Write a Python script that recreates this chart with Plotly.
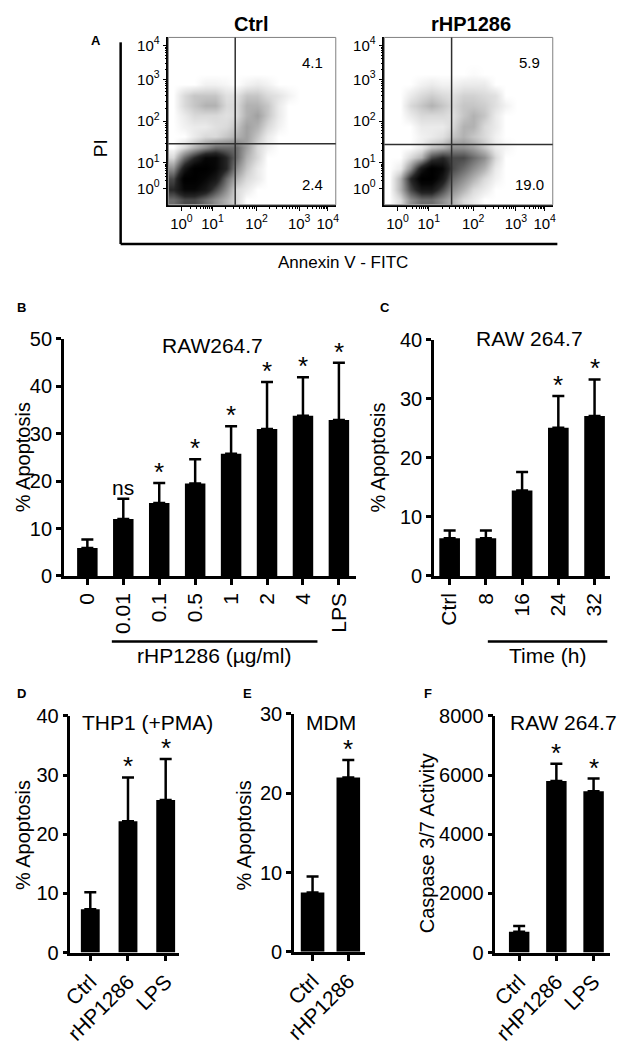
import plotly.graph_objects as go

FONT = "Liberation Sans, Arial, sans-serif"
W, H = 624, 1050

# ---------------- Panel A : flow cytometry density ----------------
channel_bins = [32, 96, 160, 224, 288, 352, 416, 480, 544, 608, 672, 736, 800, 864, 928, 992]
decade_labels = ["10<sup>0</sup>", "10<sup>1</sup>", "10<sup>2</sup>", "10<sup>3</sup>", "10<sup>4</sup>"]
decade_ch_x = [80, 270, 540, 800, 975]
decade_ch_y = [100, 256, 512, 768, 975]
minor_ch_x = [137, 171, 194, 213, 228, 241, 252, 261,
              351, 399, 433, 459, 480, 498, 514, 528,
              618, 664, 697, 722, 742, 760, 775, 788,
              853, 883, 905, 922, 936, 948, 958, 967]
minor_ch_y = [147, 174, 194, 209, 221, 232, 241, 249,
              333, 378, 410, 435, 455, 472, 487, 500,
              589, 634, 666, 691, 711, 728, 743, 756,
              830, 867, 893, 913, 929, 943, 955, 965]

# rows from bottom (low PI) to top; columns from low to high Annexin V
density_ctrl = [
    [4, 5, 5, 4, 3, 2, 1, 0, 0, 0, 0, 0, 0, 0, 0, 0],
    [6, 8, 8, 7, 5, 3, 1, 0.5, 0, 0, 0, 0, 0, 0, 0, 0],
    [5, 9, 9, 8, 7, 4, 2, 1, 0.5, 0, 0, 0, 0, 0, 0, 0],
    [3, 7, 9, 9, 8, 6, 3, 1.5, 0.5, 0, 0, 0, 0, 0, 0, 0],
    [1, 4, 6, 8, 8, 6, 4, 2, 1, 0, 0, 0, 0, 0, 0, 0],
    [0, 1, 2, 3, 4, 4, 4, 2.5, 1, 0.3, 0, 0, 0, 0, 0, 0],
    [0, 0, 0.5, 1, 1, 1.5, 2, 2.5, 1.5, 0.5, 0, 0, 0, 0, 0, 0],
    [0, 0.3, 0.5, 0.5, 0.8, 1, 1.5, 2.5, 2, 1, 0.3, 0, 0, 0, 0, 0],
    [0, 0.5, 1, 1, 1, 0.8, 1, 2, 2.5, 1.5, 0.5, 0, 0, 0, 0, 0],
    [0, 1, 1.5, 2, 2, 1, 1, 2, 2, 1.5, 0.5, 0, 0, 0, 0, 0],
    [0, 1, 1.5, 1.5, 1.5, 0.8, 0.8, 1.5, 1.5, 1, 0.7, 0.3, 0, 0, 0, 0],
    [0, 0, 0, 0.3, 0.3, 0.2, 0, 0.3, 0.5, 0.3, 0, 0, 0, 0, 0, 0],
    [0, 0, 0, 0, 0, 0, 0, 0, 0, 0, 0, 0, 0, 0, 0, 0],
    [0, 0, 0, 0, 0, 0, 0, 0, 0, 0, 0, 0, 0, 0, 0, 0],
    [0, 0, 0, 0, 0, 0, 0, 0, 0, 0, 0, 0, 0, 0, 0, 0],
    [0, 0, 0, 0, 0, 0, 0, 0, 0, 0, 0, 0, 0, 0, 0, 0],
]
density_rhp = [
    [0, 1, 3, 4, 4, 3, 2, 1, 0.5, 0, 0, 0, 0, 0, 0, 0],
    [0, 2, 5, 7, 7, 5, 3, 2, 1, 0.5, 0, 0, 0, 0, 0, 0],
    [0, 2, 6, 9, 9, 7, 4, 3, 2, 1, 0.3, 0, 0, 0, 0, 0],
    [0, 0.5, 3, 7, 9, 8, 5, 4, 3, 2, 0.5, 0, 0, 0, 0, 0],
    [0, 0, 1, 2, 5, 6, 5, 5, 4, 3, 1, 0, 0, 0, 0, 0],
    [0, 0, 0, 0.5, 1.5, 2, 3, 3, 2.5, 1.5, 0.5, 0.2, 0, 0, 0, 0],
    [0, 0, 0, 0.3, 0.5, 0.8, 1.5, 2, 1.5, 1, 0.3, 0, 0, 0, 0, 0],
    [0, 0, 0, 0.5, 0.5, 0.5, 1, 2, 2, 1, 0.5, 0, 0, 0, 0, 0],
    [0, 0, 0.5, 1, 1, 1, 0.8, 1.5, 2, 1.5, 0.5, 0, 0, 0, 0, 0],
    [0, 0, 1, 1.5, 2, 1.5, 1, 1.5, 1.5, 1.3, 0.8, 0.3, 0, 0, 0, 0],
    [0, 0, 0.5, 1, 1.3, 1, 0.8, 1.2, 1.2, 1, 0.8, 0, 0, 0, 0, 0],
    [0, 0, 0, 0.3, 0.5, 0.3, 0.3, 0.5, 0.5, 0.5, 0, 0, 0, 0, 0, 0],
    [0, 0, 0, 0, 0, 0, 0, 0, 0.1, 0, 0, 0, 0, 0, 0, 0],
    [0, 0, 0, 0, 0, 0, 0, 0, 0, 0, 0, 0, 0, 0, 0, 0],
    [0, 0, 0, 0, 0, 0, 0, 0, 0, 0, 0, 0, 0, 0, 0, 0],
    [0, 0, 0, 0, 0, 0, 0, 0, 0, 0, 0, 0, 0, 0, 0, 0],
]
gate_ctrl = [409, 373]
gate_rhp = [409, 369]
quadrant_ctrl = ["4.1", "2.4"]
quadrant_rhp = ["5.9", "19.0"]

# ---------------- Panel B ----------------
b_cats = ["0", "0.01", "0.1", "0.5", "1", "2", "4", "LPS"]
b_vals = [5.9, 12.0, 15.4, 19.5, 25.8, 31.0, 33.8, 32.9]
b_err = [1.8, 4.3, 4.2, 5.1, 5.8, 9.9, 8.1, 12.1]
b_sig = ["", "ns", "*", "*", "*", "*", "*", "*"]

# ---------------- Panel C ----------------
c_cats = ["Ctrl", "8", "16", "24", "32"]
c_vals = [6.4, 6.4, 14.5, 25.1, 27.1]
c_err = [1.3, 1.3, 3.1, 5.4, 6.2]
c_sig = ["", "", "", "*", "*"]

# ---------------- Panel D ----------------
d_cats = ["Ctrl", "rHP1286", "LPS"]
d_vals = [7.3, 22.2, 25.8]
d_err = [2.9, 7.4, 6.9]
d_sig = ["", "*", "*"]

# ---------------- Panel E ----------------
e_cats = ["Ctrl", "rHP1286"]
e_vals = [7.5, 22.0]
e_err = [2.0, 2.2]
e_sig = ["", "*"]

# ---------------- Panel F ----------------
f_cats = ["Ctrl", "rHP1286", "LPS"]
f_vals = [700, 5800, 5450]
f_err = [200, 580, 430]
f_sig = ["", "*", "*"]


def fx(px):
    return px / W


def fy(py):
    return 1 - py / H


fig = go.Figure()
layout = dict(
    width=W, height=H, autosize=False,
    margin=dict(l=0, r=0, t=0, b=0),
    paper_bgcolor="white", plot_bgcolor="white",
    showlegend=False,
    font=dict(family=FONT, color="black", size=20),
)
shapes = []
annotations = []

gray_scale = [[0, "#ffffff"], [0.03, "#f3f3f3"], [0.11, "#dadada"], [0.22, "#b3b3b3"],
              [0.45, "#6a6a6a"], [0.67, "#262626"], [0.9, "#060606"], [1, "#000000"]]

# --- A panels
a_specs = [
    ("x", "y", "", 161.7, 332.7, density_ctrl, gate_ctrl, quadrant_ctrl),
    ("x2", "y2", "2", 382.3, 554.3, density_rhp, gate_rhp, quadrant_rhp),
]
for xa, ya, sfx, x0, x1, dens, gate, quad in a_specs:
    fig.add_trace(go.Heatmap(
        x=channel_bins, y=channel_bins, z=dens, zmin=0, zmax=9,
        colorscale=gray_scale, showscale=False, zsmooth="best",
        hoverinfo="skip", xaxis=xa, yaxis=ya))
    layout["xaxis" + sfx] = dict(
        domain=[fx(x0), fx(x1)], range=[0, 1024], anchor=ya,
        tickmode="array", tickvals=decade_ch_x, ticktext=decade_labels,
        ticks="outside", ticklen=4, tickwidth=1.2, tickcolor="black",
        minor=dict(tickmode="array", tickvals=minor_ch_x, ticks="outside",
                   ticklen=2, tickwidth=1, tickcolor="black", showgrid=False),
        showline=True, linecolor="black", linewidth=1.5,
        showgrid=False, zeroline=False, tickfont=dict(size=15, family=FONT),
    )
    layout["yaxis" + sfx] = dict(
        domain=[fy(198), fy(27)], range=[0, 1024], anchor=xa,
        tickmode="array", tickvals=decade_ch_y, ticktext=decade_labels,
        ticks="outside", ticklen=4, tickwidth=1.2, tickcolor="black",
        minor=dict(tickmode="array", tickvals=minor_ch_y, ticks="outside",
                   ticklen=2, tickwidth=1, tickcolor="black", showgrid=False),
        showline=True, linecolor="black", linewidth=1.5,
        showgrid=False, zeroline=False, tickfont=dict(size=15, family=FONT),
    )
    shapes.append(dict(type="rect", xref=xa + " domain", yref=ya + " domain",
                       x0=0, x1=1, y0=0, y1=1, line=dict(color="#808080", width=1)))
    shapes.append(dict(type="line", xref=xa, yref=ya + " domain", x0=gate[0], x1=gate[0],
                       y0=0, y1=1, line=dict(color="#303030", width=1.5)))
    shapes.append(dict(type="line", xref=xa + " domain", yref=ya, x0=0, x1=1,
                       y0=gate[1], y1=gate[1], line=dict(color="#303030", width=1.5)))
    annotations.append(dict(xref=xa, yref=ya, x=880, y=868, text=quad[0], showarrow=False,
                            font=dict(size=15, family=FONT)))
    annotations.append(dict(xref=xa, yref=ya, x=880, y=126, text=quad[1], showarrow=False,
                            font=dict(size=15, family=FONT)))

# big L frame of panel A
shapes.append(dict(type="line", xref="paper", yref="paper", x0=fx(113), x1=fx(113),
                   y0=fy(32), y1=fy(238), line=dict(color="black", width=2.5)))
shapes.append(dict(type="line", xref="paper", yref="paper", x0=fx(113), x1=fx(559),
                   y0=fy(238), y1=fy(238), line=dict(color="black", width=2.5)))


def paper_text(px, py, text, size=21, bold=False, angle=0, xanchor="center"):
    annotations.append(dict(
        xref="paper", yref="paper", x=fx(px), y=fy(py), text=("<b>%s</b>" % text) if bold else text,
        showarrow=False, textangle=angle, xanchor=xanchor, yanchor="middle",
        font=dict(size=size, family=FONT, color="black")))


paper_text(246, 13, "Ctrl", size=20, bold=True)
paper_text(471, 13, "rHP1286", size=20, bold=True)
paper_text(92, 140, "PI", size=19, angle=-90)
paper_text(340, 257, "Annexin V - FITC", size=17)

# --- bar panels
bar_specs = [
    ("3", b_cats, b_vals, b_err, b_sig, 55, 353, 79, 36.7, 577, 335, 50, 10, 0.57, -90),
    ("4", c_cats, c_vals, c_err, c_sig, 433, 613, 449, 37, 577, 336, 40, 10, 0.57, -90),
    ("5", d_cats, d_vals, d_err, d_sig, 61.7, 173, 82, 38.5, 961.7, 720, 40, 10, 0.5, -45),
    ("6", e_cats, e_vals, e_err, e_sig, 290, 363, 309, 36.5, 961, 718, 30, 10, 0.66, -45),
    ("7", f_cats, f_vals, f_err, f_sig, 495.7, 613, 520, 38, 961.7, 720, 8000, 2000, 0.55, -45),
]
for idx, cats, vals, err, sig, xl, xr, c0, sp, yb, yt, ymax, dt, bw, ang in bar_specs:
    xa, ya = "x" + idx, "y" + idx
    fig.add_trace(go.Bar(
        x=cats, y=vals, width=bw, marker=dict(color="black", line=dict(width=0)),
        error_y=dict(type="data", symmetric=False, array=err, arrayminus=[0] * len(err),
                     color="black", thickness=2.5, width=6),
        xaxis=xa, yaxis=ya, hoverinfo="skip"))
    layout["xaxis" + idx] = dict(
        domain=[fx(xl), fx(xr)], type="category", categoryorder="array", categoryarray=cats,
        range=[(xl - c0) / sp, (xr - c0) / sp], anchor=ya,
        showline=True, linecolor="black", linewidth=2.5,
        ticks="outside", ticklen=6, tickwidth=2.5, tickcolor="black",
        tickangle=ang, tickfont=dict(size=21, family=FONT), showgrid=False, zeroline=False)
    layout["yaxis" + idx] = dict(
        domain=[fy(yb), fy(yt)], range=[0, ymax], dtick=dt, tick0=0, anchor=xa,
        showline=True, linecolor="black", linewidth=2.5,
        ticks="outside", ticklen=5, tickwidth=2.5, tickcolor="black",
        tickfont=dict(size=20, family=FONT), showgrid=False, zeroline=False)
    for i, (v, e, s) in enumerate(zip(vals, err, sig)):
        if s:
            annotations.append(dict(
                xref=xa, yref=ya, x=i, y=v + e, text=s, showarrow=False,
                yanchor="bottom", yshift=(-2 if s == "ns" else -6),
                font=dict(size=(21 if s == "ns" else 26), family=FONT, color="black")))

# panel titles
paper_text(207, 342, "RAW264.7")
paper_text(531, 334, "RAW 264.7")
paper_text(140, 727, "THP1 (+PMA)")
paper_text(328, 727, "MDM")
paper_text(622, 727, "RAW 264.7", xanchor="right")

# y axis titles
paper_text(14, 456, "% Apoptosis", angle=-90, size=20)
paper_text(376, 456, "% Apoptosis", angle=-90, size=20)
paper_text(14, 842, "% Apoptosis", angle=-90, size=20)
paper_text(239, 842, "% Apoptosis", angle=-90, size=20)
paper_text(426, 850, "Caspase 3/7 Activity", angle=-90, size=20)

# group brackets below B and C
shapes.append(dict(type="line", xref="paper", yref="paper", x0=fx(104), x1=fx(314),
                   y0=fy(644), y1=fy(644), line=dict(color="black", width=2.5)))
shapes.append(dict(type="line", xref="paper", yref="paper", x0=fx(488), x1=fx(610),
                   y0=fy(644), y1=fy(644), line=dict(color="black", width=2.5)))
paper_text(208, 658, "rHP1286 (µg/ml)")
paper_text(549, 658, "Time (h)")

# panel letters
for lx, ly, lt in [(88, 30, "A"), (12, 303, "B"), (383, 303, "C"),
                   (12, 697, "D"), (243, 697, "E"), (427, 697, "F")]:
    paper_text(lx, ly, lt, size=13, bold=True)

layout["shapes"] = shapes
layout["annotations"] = annotations
fig.update_layout(**layout)
fig.write_html(
    "out.html",
    config={"displayModeBar": False},
    post_script="document.body.style.margin='0';document.body.style.padding='0';",
)
